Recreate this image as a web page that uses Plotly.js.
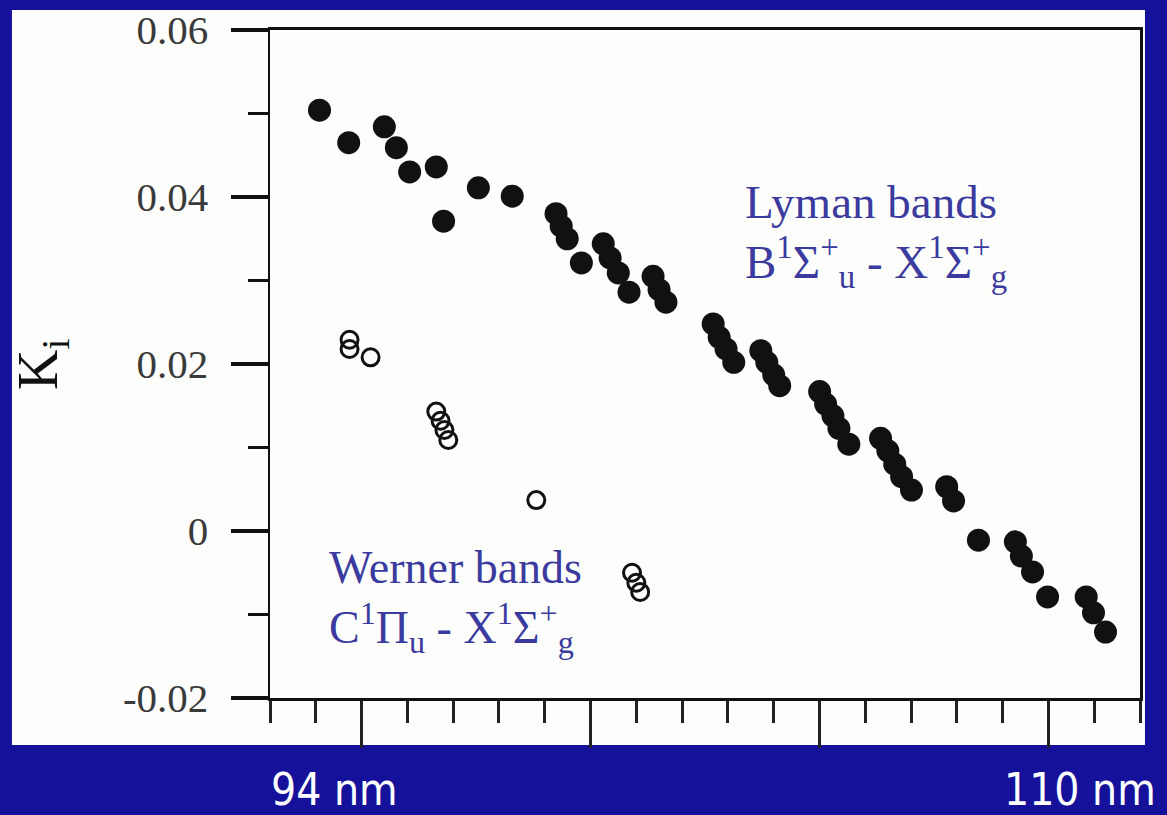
<!DOCTYPE html>
<html>
<head>
<meta charset="utf-8">
<script src="https://cdn.plot.ly/plotly-3.0.1.min.js"></script>
<style>
  html, body { margin: 0; padding: 0; background: #15119b; }
  #chart { width: 1167px; height: 815px; }
</style>
</head>
<body>
<div id="chart"></div>
<script>
// Lyman bands (B1Σ+u - X1Σ+g): wavelength in nm, coefficient K_i
const lymanNm = [93.02, 93.70, 94.53, 94.81, 95.12, 95.74, 95.91, 96.72, 97.51,
  98.53, 98.65, 98.79, 99.12, 99.63, 99.79, 99.98, 100.23, 100.79, 100.93, 101.09,
  102.19, 102.33, 102.49, 102.67, 103.30, 103.44, 103.60, 103.74,
  104.67, 104.81, 104.98, 105.12, 105.35, 106.09, 106.26, 106.42, 106.58, 106.81,
  107.63, 107.79, 108.37, 109.23, 109.37, 109.63, 109.98, 110.88, 111.05, 111.33];
const lymanK = [0.0504, 0.0465, 0.0484, 0.0459, 0.0430, 0.0436, 0.0371, 0.0411, 0.0401,
  0.0380, 0.0365, 0.0350, 0.0321, 0.0344, 0.0327, 0.0309, 0.0286, 0.0305, 0.0289, 0.0274,
  0.0248, 0.0232, 0.0218, 0.0202, 0.0216, 0.0202, 0.0187, 0.0174,
  0.0167, 0.0152, 0.0138, 0.0123, 0.0104, 0.0111, 0.0096, 0.0080, 0.0065, 0.0049,
  0.0053, 0.0036, -0.0011, -0.0013, -0.0030, -0.0049, -0.0079, -0.0079, -0.0098, -0.0121];

// Werner bands (C1Πu - X1Σ+g)
const wernerNm = [93.72, 93.72, 94.21, 95.74, 95.84, 95.93, 96.02, 98.07, 100.30, 100.40, 100.49];
const wernerK = [0.0229, 0.0218, 0.0208, 0.0143, 0.0132, 0.0121, 0.0109, 0.0037, -0.0050, -0.0062, -0.0073];

// Axis ticks
const yTickVals = [-0.02, 0, 0.02, 0.04, 0.06];
const yTickText = ['-0.02', '0', '0.02', '0.04', '0.06'];
const yMinorVals = [-0.01, 0.01, 0.03, 0.05];
const xStartNm = 94;
const xEndNm = 110;
const xLabels = ['94 nm', '110 nm'];

// x-axis: three major intervals between the two labelled wavelengths, five minor steps each
const xMajorStep = (xEndNm - xStartNm) / 3;
const xMinorStep = xMajorStep / 5;
const xMajorVals = [0, 1, 2, 3].map(k => xStartNm + k * xMajorStep);
const xMinorVals = [];
for (let k = -2; k <= 17; k++) {
  if (k % 5 !== 0) xMinorVals.push(xStartNm + k * xMinorStep);
}

const serif = 'Liberation Serif, Times New Roman, serif';
const narrowSans = 'Liberation Sans Narrow, DejaVu Sans Condensed, DejaVu Sans, sans-serif';
const ink = '#111111';
const bandBlue = '#3b3a9e';

const traces = [
  {
    x: lymanNm, y: lymanK, type: 'scatter', mode: 'markers', name: 'Lyman',
    marker: { symbol: 'circle', size: 23, color: ink, line: { width: 0 } },
    hoverinfo: 'x+y'
  },
  {
    x: wernerNm, y: wernerK, type: 'scatter', mode: 'markers', name: 'Werner',
    marker: { symbol: 'circle-open', size: 17, color: ink, line: { width: 3, color: ink } },
    hoverinfo: 'x+y'
  }
];

const layout = {
  width: 1167, height: 815,
  margin: { l: 270, r: 27, t: 30, b: 117 },
  paper_bgcolor: '#15119b',
  plot_bgcolor: '#ffffff',
  showlegend: false,
  xaxis: {
    range: [xStartNm - 2 * xMinorStep, xStartNm + 17 * xMinorStep],
    tickmode: 'array', tickvals: xMajorVals, showticklabels: false,
    ticks: 'outside', ticklen: 47, tickwidth: 2.5, tickcolor: '#222',
    minor: { tickmode: 'array', tickvals: xMinorVals, ticks: 'outside', ticklen: 22, tickwidth: 3, tickcolor: '#222', showgrid: false },
    showline: true, linecolor: ink, linewidth: 3, mirror: true,
    showgrid: false, zeroline: false, fixedrange: true
  },
  yaxis: {
    range: [-0.02, 0.06],
    tickmode: 'array', tickvals: yTickVals, ticktext: yTickText,
    ticks: 'outside', ticklen: 37, tickwidth: 3.5, tickcolor: ink,
    ticklabelstandoff: 14,
    tickfont: { family: serif, size: 41, color: '#3a3a3a' },
    minor: { tickmode: 'array', tickvals: yMinorVals, ticks: 'outside', ticklen: 20, tickwidth: 3.5, tickcolor: ink, showgrid: false },
    showline: true, linecolor: ink, linewidth: 2.5, mirror: true,
    showgrid: false, zeroline: false, fixedrange: true
  },
  shapes: [
    // white slide panel behind the plot
    { type: 'rect', xref: 'paper', yref: 'paper', layer: 'below',
      x0: -0.2966, x1: 1.0057, y0: -0.0704, y1: 1.03,
      fillcolor: '#fdfefc', line: { width: 0 } }
  ],
  annotations: [
    { xref: 'paper', yref: 'paper', x: -0.262, y: 0.4985, textangle: -90,
      text: 'K<sub>i</sub>', showarrow: false, xanchor: 'center', yanchor: 'middle',
      font: { family: serif, size: 56, color: ink } },
    { xref: 'paper', yref: 'paper', x: 0.544, y: 0.742, xanchor: 'left', yanchor: 'middle',
      text: 'Lyman bands', showarrow: false,
      font: { family: serif, size: 47, color: bandBlue } },
    { xref: 'paper', yref: 'paper', x: 0.544, y: 0.652, xanchor: 'left', yanchor: 'middle',
      text: 'B<sup>1</sup>Σ<sup>+</sup><sub>u</sub> - X<sup>1</sup>Σ<sup>+</sup><sub>g</sub>', showarrow: false,
      font: { family: serif, size: 47, color: bandBlue } },
    { xref: 'paper', yref: 'paper', x: 0.066, y: 0.195, xanchor: 'left', yanchor: 'middle',
      text: 'Werner bands', showarrow: false,
      font: { family: serif, size: 46, color: bandBlue } },
    { xref: 'paper', yref: 'paper', x: 0.066, y: 0.105, xanchor: 'left', yanchor: 'middle',
      text: 'C<sup>1</sup>Π<sub>u</sub> - X<sup>1</sup>Σ<sup>+</sup><sub>g</sub>', showarrow: false,
      font: { family: serif, size: 46, color: bandBlue } },
    { xref: 'x', yref: 'paper', x: xStartNm, xshift: -27, y: -0.137, xanchor: 'center', yanchor: 'middle',
      text: xLabels[0], showarrow: false,
      font: { family: narrowSans, size: 44, color: '#ffffff' } },
    { xref: 'x', yref: 'paper', x: xEndNm, xshift: 32, y: -0.137, xanchor: 'center', yanchor: 'middle',
      text: xLabels[1], showarrow: false,
      font: { family: narrowSans, size: 44, color: '#ffffff' } }
  ]
};

Plotly.newPlot('chart', traces, layout, { displayModeBar: false, staticPlot: true });
</script>
</body>
</html>
